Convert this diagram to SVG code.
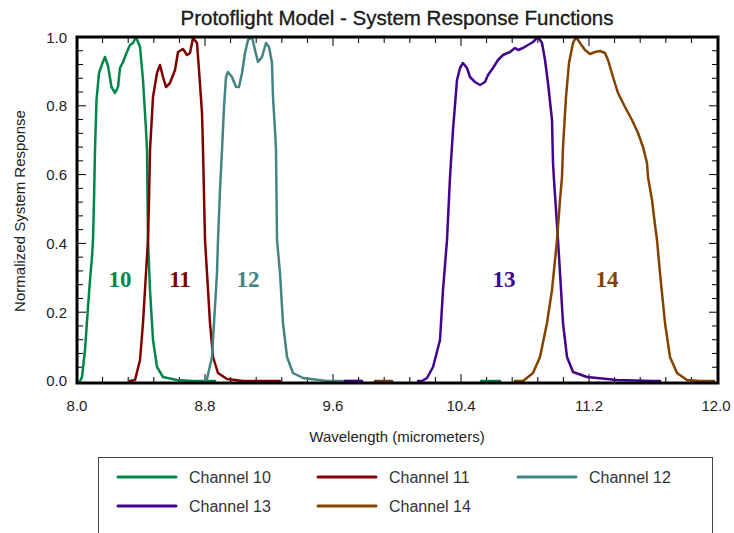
<svg xmlns="http://www.w3.org/2000/svg" width="734" height="533" viewBox="0 0 734 533">
<style>
.t{font-family:"Liberation Sans",Arial,sans-serif;fill:#222}
.tick{stroke:#000;stroke-width:1;fill:none}
.c{fill:none;stroke-width:2.5;stroke-linejoin:round;stroke-linecap:round}
.lab{font-family:"Liberation Serif","Times New Roman",serif;font-weight:bold;font-size:23px;text-anchor:middle}
.leg{font-family:"Liberation Sans",Arial,sans-serif;font-size:16px;fill:#333}
.ll{stroke-width:3;stroke-linecap:round}
</style>
<rect width="734" height="533" fill="#fff"/>
<text class="t" x="397" y="25" font-size="20.5" text-anchor="middle" fill="#000" stroke="#000" stroke-width="0.3">Protoflight Model - System Response Functions</text>
<g id="axes">
<path class="tick" d="M102.6 382v-5M128.2 382v-5M153.8 382v-5M179.4 382v-5M230.6 382v-5M256.2 382v-5M281.8 382v-5M307.4 382v-5M358.6 382v-5M384.2 382v-5M409.8 382v-5M435.4 382v-5M486.6 382v-5M512.2 382v-5M537.8 382v-5M563.4 382v-5M614.6 382v-5M640.2 382v-5M665.8 382v-5M691.4 382v-5M205 382v-8M333 382v-8M461 382v-8M589 382v-8
M102.6 38v5M128.2 38v5M153.8 38v5M179.4 38v5M230.6 38v5M256.2 38v5M281.8 38v5M307.4 38v5M358.6 38v5M384.2 38v5M409.8 38v5M435.4 38v5M486.6 38v5M512.2 38v5M537.8 38v5M563.4 38v5M614.6 38v5M640.2 38v5M665.8 38v5M691.4 38v5M205 38v8M333 38v8M461 38v8M589 38v8
M78 367.24h5M78 353.48h5M78 339.72h5M78 325.96h5M78 298.44h5M78 284.68h5M78 270.92h5M78 257.16h5M78 229.64h5M78 215.88h5M78 202.12h5M78 188.36h5M78 160.84h5M78 147.08h5M78 133.32h5M78 119.56h5M78 92.04h5M78 78.28h5M78 64.52h5M78 50.76h5M78 312.2h8M78 243.4h8M78 174.6h8M78 105.8h8
M717 367.24h-5M717 353.48h-5M717 339.72h-5M717 325.96h-5M717 298.44h-5M717 284.68h-5M717 270.92h-5M717 257.16h-5M717 229.64h-5M717 215.88h-5M717 202.12h-5M717 188.36h-5M717 160.84h-5M717 147.08h-5M717 133.32h-5M717 119.56h-5M717 92.04h-5M717 78.28h-5M717 64.52h-5M717 50.76h-5M717 312.2h-8M717 243.4h-8M717 174.6h-8M717 105.8h-8"/>
<g class="t" font-size="15" text-anchor="end">
<text x="67" y="43">1.0</text>
<text x="67" y="111">0.8</text>
<text x="67" y="180">0.6</text>
<text x="67" y="249">0.4</text>
<text x="67" y="318">0.2</text>
<text x="67" y="386">0.0</text>
</g>
<g class="t" font-size="15" text-anchor="middle">
<text x="77" y="411">8.0</text>
<text x="205" y="411">8.8</text>
<text x="333" y="411">9.6</text>
<text x="461" y="411">10.4</text>
<text x="589" y="411">11.2</text>
<text x="716" y="411">12.0</text>
</g>
<text class="t" x="397" y="442" font-size="15" text-anchor="middle">Wavelength (micrometers)</text>
<text class="t" transform="translate(25 211) rotate(-90)" font-size="15" text-anchor="middle">Normalized System Response</text>
</g>
<g id="curves">
<g id="ch10"><polyline class="c" stroke="#00864a" points="80,381 82,377 85,350 88,307 90,280 92,257 93,240 94,200 95,150 96.5,100 99,73 102.5,63 105,57 108,66 111.5,87 115,93 118,87 120,68 123,62 126.5,53 130,45 133,43 136,37 140,47 143,80 146,130 147,150 148,240 150,290 153,340 157,367 163,377 177,380 193,381 215,381"/><polyline class="c" stroke="#00864a" points="481,381 500,381"/></g>
<g id="ch11"><polyline class="c" stroke="#800000" points="130,381 135,380 140,360 143,323 146,273 148,240 149,200 150,150 153,97 157,73 160,65 163,77 166,87 170,83 175,70 178,52 183,49 187,55 190,53 193,38 197,43 199,70 202,113 203,150 205,240 207,273 210,323 213,357 218,373 227,379 243,381 280,381"/></g>
<g id="ch12"><polyline class="c" stroke="#428484" points="205,381 207,379 212,357 214,323 217,273 218,240 220,190 222,150 224,107 226,77 228,72 232,77 236,87 239,87 242,73 245,53 248,40 252,37 255,50 258,62 262,57 266,43 269,47 272,63 273,97 275,130 276,150 277,240 280,273 283,323 287,357 293,373 303,378 327,381 360,381"/></g>
<g id="ch13"><polyline class="c" stroke="#44038c" points="418,381 422,381 427,378 433,367 440,340 443,290 447,240 450,177 453,130 457,80 460,68 463,63 467,68 470,77 475,82 480,85 485,82 488,75 493,68 498,60 503,55 510,52 515,48 518,50 523,48 528,45 533,42 538,37 542,43 545,60 548,83 552,120 553,163 554,180 556,210 558,240 560,273 563,323 567,357 573,372 587,377 617,380 653,381 660,381"/><polyline class="c" stroke="#44038c" points="345,381 362,381"/></g>
<g id="ch14"><polyline class="c" stroke="#844200" points="515,381 523,381 533,373 540,357 547,323 552,290 557,240 560,200 562,177 563,147 566,97 569,63 573,43 576,37 580,43 585,50 590,54 595,52 600,51 605,53 608,60 613,77 618,93 625,107 632,120 638,133 643,147 647,163 648,177 652,200 655,225 657,240 660,273 665,323 670,357 677,373 687,380 700,381 714,381"/><polyline class="c" stroke="#844200" points="375,381 392,381"/></g>
</g>
<rect x="77" y="37" width="641" height="346" fill="none" stroke="#000" stroke-width="3"/>
<g id="labels">
<text class="lab" x="120" y="287" fill="#00864a">10</text>
<text class="lab" x="180" y="287" fill="#800000">11</text>
<text class="lab" x="248" y="287" fill="#428484">12</text>
<text class="lab" x="504" y="287" fill="#44038c">13</text>
<text class="lab" x="607" y="287" fill="#844200">14</text>
</g>
<g id="legend">
<rect x="98.5" y="457.5" width="614" height="90" fill="#fff" stroke="#444" stroke-width="1"/>
<line class="ll" x1="118" y1="477" x2="176" y2="477" stroke="#00864a"/>
<text class="leg" x="189" y="483">Channel 10</text>
<line class="ll" x1="318" y1="477" x2="376" y2="477" stroke="#800000"/>
<text class="leg" x="389" y="483">Channel 11</text>
<line class="ll" x1="518" y1="477" x2="576" y2="477" stroke="#428484"/>
<text class="leg" x="589" y="483">Channel 12</text>
<line class="ll" x1="118" y1="506" x2="176" y2="506" stroke="#44038c"/>
<text class="leg" x="189" y="512">Channel 13</text>
<line class="ll" x1="318" y1="506" x2="376" y2="506" stroke="#844200"/>
<text class="leg" x="389" y="512">Channel 14</text>
</g>
</svg>
